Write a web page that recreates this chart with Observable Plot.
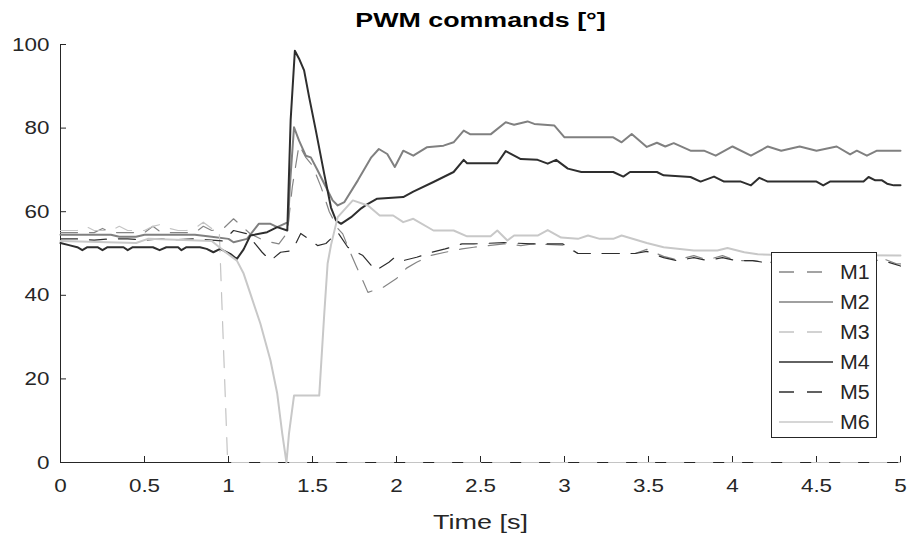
<!DOCTYPE html>
<html><head><meta charset="utf-8">
<script src="https://cdn.jsdelivr.net/npm/d3@7"></script>
<script src="https://cdn.jsdelivr.net/npm/@observablehq/plot@0.6"></script>
<style>
body{margin:0;background:#fff;}
#wrap{position:relative;width:908px;height:541px;font-family:"Liberation Sans",Arial,sans-serif;}
#legend{position:absolute;left:771px;top:252px;width:106px;height:186px;border:1.3px solid #262626;background:#fff;box-sizing:border-box}
</style></head><body><div id="wrap"></div><script>
const title = "PWM commands [°]";
const xLabel = "Time [s]";
const xTicks = [0,0.5,1,1.5,2,2.5,3,3.5,4,4.5,5];
const xTickLabels = ["0","0.5","1","1.5","2","2.5","3","3.5","4","4.5","5"];
const yTicks = [0,20,40,60,80,100];
const yTickLabels = ["0","20","40","60","80","100"];
const seriesNames = ["M1","M2","M3","M4","M5","M6"];

const tM1 = [0,0.2,0.25,0.3,0.5,0.55,0.6,0.8,0.85,0.9,0.97,1.03,1.13,1.21,1.3,1.35,1.38,1.42,1.46,1.5,1.55,1.6,1.65,1.68,1.72,1.76,1.8,1.83,1.92,2.0,2.06,2.12,2.2,2.29,2.39,2.46,2.64,2.74,2.81,2.99,3.08,3.25,3.42,3.49,3.59,3.67,3.77,3.85,3.94,4.02,4.12,4.2,4.5,4.8,4.88,4.98,5];
const vM1 = [55,55,56,55,55,56.5,55,55,56.5,55.5,56,58.3,54.7,53.1,52.3,55,66,76,73,71,66,60,56,54.7,50.7,47,43.5,40.7,41.9,44,46.5,47.9,49.5,50.3,51.1,51.5,52.3,51.9,52.3,52,50,50,50,51,49.3,48.5,49.5,48.5,49.5,48.3,48.3,47.9,48,48.5,49,47.5,47.5];

const tM2 = [0,0.3,0.35,0.45,0.5,0.8,0.9,1.0,1.03,1.11,1.18,1.25,1.29,1.355,1.365,1.39,1.42,1.46,1.49,1.53,1.57,1.62,1.65,1.69,1.77,1.85,1.895,1.945,1.99,2.04,2.1,2.18,2.28,2.34,2.40,2.44,2.56,2.65,2.70,2.78,2.82,2.94,3.0,3.29,3.34,3.40,3.49,3.55,3.60,3.65,3.75,3.83,3.90,4.0,4.11,4.21,4.29,4.40,4.5,4.62,4.70,4.74,4.80,4.86,5.0];
const vM2 = [54.5,54.5,54,54,54.5,54.5,54,53.5,52.7,53.5,57.1,57.1,56.3,57.5,66,80.2,77,73.4,73,69.9,66.7,62.7,61.5,62.3,67.5,73,75,73.8,70.7,74.6,73.4,75.4,75.8,76.6,79.4,78.5,78.5,81.4,80.8,81.6,81,80.6,77.8,77.8,76.6,78.6,75.5,76.5,75.6,76.4,74.6,74.6,73.4,75.6,73.4,75.6,74.6,75.6,74.6,75.6,73.7,74.6,73.4,74.6,74.6];

const tM3 = [0,0.1,0.15,0.2,0.3,0.35,0.4,0.5,0.55,0.6,0.65,0.7,0.75,0.8,0.85,0.9,0.945,0.995,5];
const vM3 = [55.5,55.5,56.5,55.5,55.5,56.5,55.5,55.5,56.5,57,56,55.5,55.5,56,57.5,56,55.5,0,0];

const tM4 = [0,0.05,0.1,0.13,0.16,0.22,0.25,0.28,0.375,0.4,0.43,0.55,0.59,0.63,0.7,0.72,0.75,0.83,0.87,0.91,0.95,1.01,1.05,1.09,1.13,1.23,1.29,1.35,1.37,1.395,1.42,1.45,1.48,1.52,1.57,1.61,1.64,1.67,1.73,1.79,1.83,1.885,2.04,2.1,2.22,2.34,2.40,2.42,2.6,2.65,2.74,2.84,2.90,2.95,3.02,3.1,3.29,3.35,3.39,3.55,3.59,3.75,3.81,3.89,3.95,4.05,4.11,4.16,4.21,4.5,4.54,4.58,4.78,4.81,4.85,4.89,4.92,4.96,5.0];
const vM4 = [52.5,52,51.5,50.8,51.5,51.5,50.8,51.5,51.5,50.8,51.5,51.5,50.8,51.5,51.5,50.8,51.5,51.5,51.1,50.3,51.1,49.9,48.7,51,54.3,55.1,56.3,55.5,82,98.5,96.6,93.8,87.4,79.4,69,61,57.9,57.1,58.7,60.8,61.9,63.1,63.5,64.8,67.1,69.5,72.4,71.6,71.6,74.5,72.6,72.4,71.5,72.4,70.3,69.5,69.5,68.4,69.5,69.5,68.7,68.3,67.2,68.4,67.2,67.2,66.3,68.1,67.2,67.2,66.3,67.2,67.2,68.3,67.5,67.5,66.7,66.3,66.3];

const tM5 = [0,0.1,0.2,0.3,0.4,0.5,0.6,0.7,0.8,0.9,0.97,1.03,1.11,1.2,1.25,1.31,1.38,1.43,1.49,1.53,1.58,1.65,1.71,1.8,1.875,1.955,1.99,2.04,2.12,2.21,2.29,2.39,2.46,2.64,2.81,2.99,3.08,3.25,3.42,3.49,3.59,3.67,3.77,3.85,3.94,4.02,4.12,4.2,4.5,4.8,4.88,5.0];
const vM5 = [53.5,53.5,53.2,53.5,53.5,53.2,53.5,53.3,53.5,53.2,53,55.5,54.7,50.3,48.3,50.3,50.7,54.8,53.1,51.9,52.4,55.1,51.5,49.5,45.9,47.9,49.1,48.3,49.1,50.3,51.1,52.3,52.3,52.6,52.3,52.3,50,50,50,50.5,49,48.3,49,48.3,49,48.3,48.3,47.8,47.5,48,48.5,47];

const tM6 = [0,0.45,0.52,0.9,0.97,1.05,1.09,1.13,1.19,1.25,1.29,1.32,1.345,1.36,1.39,1.54,1.57,1.59,1.61,1.65,1.74,1.83,1.90,1.98,2.04,2.1,2.22,2.34,2.42,2.56,2.6,2.66,2.70,2.84,2.90,2.98,3.08,3.14,3.21,3.29,3.34,3.49,3.59,3.77,3.91,3.97,4.07,4.15,4.23,5.0];
const vM6 = [53,52.5,53.5,53,50.7,48.3,45.2,40.4,33.2,24.4,16.5,6.9,0,6.9,16,16,35.6,47.6,52,58.7,62.7,61.5,59.1,59.1,57.5,58.3,55.5,55.5,54.1,54.1,55.5,53.1,54.3,54.3,55.6,53.8,53.5,54.3,53.5,53.5,54.3,52.5,51.5,50.7,50.7,51.3,50.3,49.8,49.7,49.5];

const seriesColors = ["#858585","#808080","#c4c4c4","#2e2e2e","#2e2e2e","#c8c8c8"];
const seriesDash = ["17,12",null,"17,12",null,"17,12",null];
const seriesWidth = [1.2,2,1.2,2,1.2,2];

const times = [tM1,tM2,tM3,tM4,tM5,tM6];
const values = [vM1,vM2,vM3,vM4,vM5,vM6];
const series = seriesNames.map((name,i)=>({
  name, color: seriesColors[i], dash: seriesDash[i], width: seriesWidth[i],
  rows: times[i].map((t,j)=>({t, v: values[i][j], s: name}))
}));

const W = 908, H = 541, mL = 60, mR = 8, mT = 44, mB = 79;
const frameW = W - mL - mR, frameH = H - mT - mB;
const tickLen = 6;
const axisColor = "#262626";

const drawOrder = [0,1,2,3,4,5];
const chart = Plot.plot({
  width: W, height: H,
  marginLeft: mL, marginRight: mR, marginTop: mT, marginBottom: mB,
  style: {fontFamily: '"Liberation Sans", Arial, sans-serif', fontSize: "19px", color: axisColor, background: "white", overflow: "visible"},
  x: {domain: [0,5]},
  y: {domain: [0,100]},
  marks: [
    Plot.ruleY([0], {stroke: axisColor, strokeWidth: 1}),
    Plot.ruleX([0], {stroke: axisColor, strokeWidth: 1}),
    Plot.ruleX(xTicks, {x: d=>d, stroke: axisColor, insetTop: frameH - tickLen}),
    Plot.ruleY(yTicks, {y: d=>d, stroke: axisColor, insetRight: frameW - tickLen}),
    ...drawOrder.map(i => Plot.line(series[i].rows, {
      x: "t", y: "v", stroke: series[i].color, strokeWidth: series[i].width,
      strokeDasharray: series[i].dash, strokeLinejoin: "round"
    })),
    Plot.axisX({ticks: xTicks, tickFormat: (d,i)=>xTickLabels[xTicks.indexOf(d)], tickSize: 0, tickPadding: 16, label: null, fill: axisColor}),
    Plot.axisY({ticks: yTicks, tickFormat: d=>yTickLabels[yTicks.indexOf(d)], tickSize: 0, tickPadding: 11, label: null, fill: axisColor}),
    Plot.text([title], {text: d=>d, frameAnchor: "top", dy: -24, fontWeight: "bold", fontSize: 20, fill: "black", lineAnchor: "middle"}),
    Plot.text([xLabel], {text: d=>d, frameAnchor: "bottom", dy: 60, fontSize: 20, fill: axisColor, lineAnchor: "middle"})
  ]
});
const wrap = document.getElementById("wrap");
wrap.appendChild(chart);

// horizontal stretch of text to match reference rendering
d3.select(chart).selectAll("text").each(function(){
  const el = this;
  const txt = el.textContent;
  let f = 1.18;
  if (txt === title) f = 1.34;
  else if (txt === xLabel) f = 1.35;
  const len = el.getComputedTextLength();
  if (len > 0) {
    el.setAttribute("textLength", (len * f).toFixed(1));
    el.setAttribute("lengthAdjust", "spacingAndGlyphs");
  }
});

// legend
const leg = document.createElement("div");
leg.id = "legend";
wrap.appendChild(leg);
const ls = d3.select(leg).append("svg").attr("width", 104).attr("height", 184).style("display","block");
series.forEach((s,i)=>{
  const y = 19 + 30*i;
  ls.append("line").attr("x1",7).attr("x2",61).attr("y1",y).attr("y2",y)
    .attr("stroke", s.color).attr("stroke-width", s.dash ? 1.3 : 1.6)
    .attr("stroke-dasharray", s.dash ? "15,13" : null);
  const t = ls.append("text").attr("x",68).attr("y",y).attr("dy","0.35em")
    .attr("font-family",'"Liberation Sans", Arial, sans-serif').attr("font-size",20)
    .attr("fill", axisColor).text(s.name);
  const n = t.node(); const len = n.getComputedTextLength();
  n.setAttribute("textLength",(len*1.07).toFixed(1)); n.setAttribute("lengthAdjust","spacingAndGlyphs");
});
</script></body></html>
